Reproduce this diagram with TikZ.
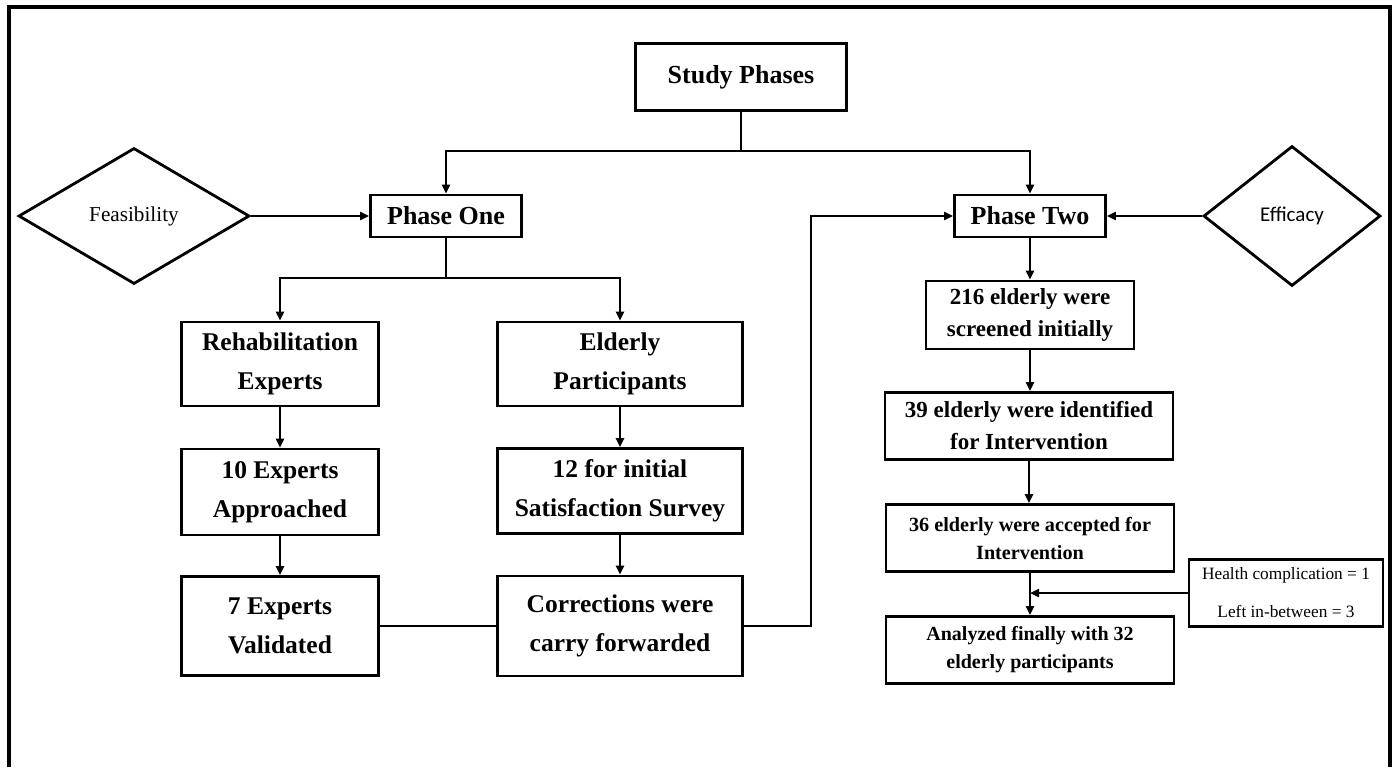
\documentclass[tikz,border=0pt]{standalone}
\usepackage{fontspec}
\setmainfont{Liberation Serif}
\newfontfamily\calibri{Carlito}
\usetikzlibrary{shapes.geometric,arrows.meta}
\newcommand{\fs}[2]{\fontsize{#1}{#2}\selectfont}

\begin{document}
\begin{tikzpicture}[x=0.5pt,y=-0.5pt]
        \tikzstyle{box}=[rectangle,draw,line width=1.4pt,align=center,inner sep=0pt]
        \tikzstyle{dia}=[diamond,draw,line width=1.4pt,inner sep=0pt]
        \tikzstyle{arr}=[-{Triangle[length=4.5pt,width=4pt]},line width=1.2pt]
        \tikzstyle{link}=[line width=1.2pt]
        \useasboundingbox (0,0) rectangle (1397,767);
        \draw[line width=1.7pt] (9,767) -- (9,7) -- (1390,7) -- (1390,767);
        % top
        \node[box,minimum width=105.5pt,minimum height=33.5pt,font=\bfseries\fs{13}{16}] (phases) at (741,77) {Study Phases};
        \node[box,minimum width=75.5pt,minimum height=21pt,font=\bfseries\fs{13}{16}] (one) at (446,216) {Phase One};
        \node[box,minimum width=75.5pt,minimum height=21pt,font=\bfseries\fs{13}{16}] (two) at (1030,216) {Phase Two};
        \node[dia,minimum width=115.5pt,minimum height=68pt,font=\fs{10.6}{13}] (feas) at (134,216) {Feasibility};
        \node[dia,minimum width=88.5pt,minimum height=70pt,font=\calibri\fs{10.5}{13}] (eff) at (1292,216) {Efficacy};
        % phase one
        \node[box,minimum width=98.5pt,minimum height=42pt,font=\bfseries\fs{12.75}{19.5}] (rehab) at (280,364) {Rehabilitation\\Experts};
        \node[box,minimum width=98.5pt,minimum height=43pt,font=\bfseries\fs{12.75}{19.5}] (approach) at (280,492) {10 Experts\\Approached};
        \node[box,minimum width=98.5pt,minimum height=49.5pt,font=\bfseries\fs{12.75}{19.5}] (valid) at (280,626) {7 Experts\\Validated};
        \node[box,minimum width=122.5pt,minimum height=42pt,font=\bfseries\fs{12.75}{19.5}] (elderly) at (620,364) {Elderly\\Participants};
        \node[box,minimum width=122.5pt,minimum height=42.5pt,font=\bfseries\fs{12.75}{19.5}] (survey) at (620,491) {12 for initial\\Satisfaction Survey};
        \node[box,minimum width=122.5pt,minimum height=50pt,font=\bfseries\fs{12.75}{19.5}] (correct) at (620,626) {Corrections were\\carry forwarded};
        % phase two
        \node[box,minimum width=104pt,minimum height=34pt,font=\bfseries\fs{11.5}{16}] (screen) at (1030,315) {216 elderly were\\screened initially};
        \node[box,minimum width=144pt,minimum height=33.5pt,font=\bfseries\fs{11.5}{16}] (ident) at (1029,426) {39 elderly were identified\\for Intervention};
        \node[box,minimum width=144pt,minimum height=33.5pt,font=\bfseries\fs{10.1}{14}] (accept) at (1030,538) {36 elderly were accepted for\\Intervention};
        \node[box,minimum width=144pt,minimum height=33.5pt,font=\bfseries\fs{10}{14}] (final) at (1030,650) {Analyzed finally with 32\\elderly participants};
        \node[box,minimum width=97pt,minimum height=33.5pt,font=\fs{8.65}{19}] (lost) at (1286,593) {Health complication = 1\\Left in-between = 3};
        \coordinate (split) at (741,151);
        \coordinate (split1) at (446,278);
        \coordinate (turn) at (811,216);
        \draw[link] (phases.south) -- (split);
        \draw[arr] (split) -| (one.north);
        \draw[arr] (split) -| (two.north);
        \draw[arr] (feas.east) -- (one.west);
        \draw[arr] (eff.west) -- (two.east);
        \draw[link] (one.south) -- (split1);
        \draw[arr] (split1) -| (rehab.north);
        \draw[arr] (split1) -| (elderly.north);
        \draw[arr] (rehab) -- (approach);
        \draw[arr] (approach) -- (valid);
        \draw[arr] (elderly) -- (survey);
        \draw[arr] (survey) -- (correct);
        \draw[link] (valid.east) -- (correct.west);
        \draw[arr] (correct.east) -| (turn) -- (two.west);
        \draw[arr] (two) -- (screen);
        \draw[arr] (screen) -- (screen |- ident.north);
        \draw[arr] (ident) -- (ident |- accept.north);
        \draw[arr] (accept) -- (final);
        \draw[arr] (lost.west) -- (accept.south |- lost.west);
\end{tikzpicture}
\end{document}
